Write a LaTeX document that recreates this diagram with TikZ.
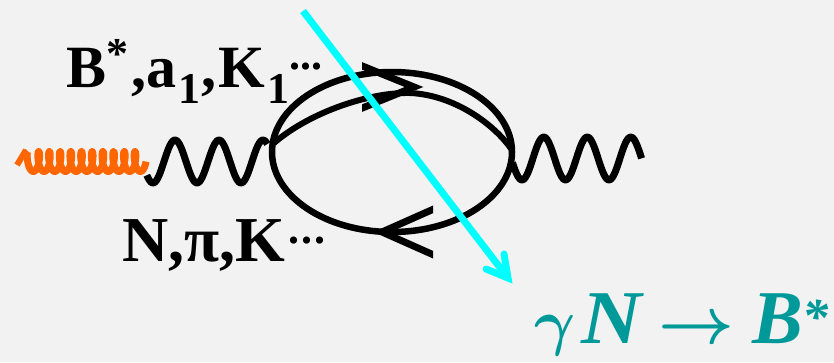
\documentclass[tikz,border=0pt]{standalone}
\usepackage{fontspec}
\usepackage{bm}
\setmainfont{Liberation Serif}
\definecolor{bgc}{HTML}{F2F2F2}
\definecolor{orng}{HTML}{FF6600}
\definecolor{teal2}{HTML}{009999}
\definecolor{cyan2}{HTML}{00FFFF}
\newcommand{\smf}{\fontsize{44}{44}\selectfont}
\newcommand{\updots}[1]{\raisebox{18pt}{\smf.\kern#1.\kern#1.}}
\tikzset{
 line/.style={line width=6.5pt,black,line join=round},
 thinline/.style={line width=6pt,black},
 wave/.style={line width=7pt,black,line join=round},
 barb/.style={line width=7pt,black,line join=miter,miter limit=10},
 lab/.style={inner sep=0pt,outer sep=0pt,anchor=base west,font=\fontsize{60}{60}\selectfont\bfseries},
 teallab/.style={inner sep=0pt,outer sep=0pt,anchor=base west,text=teal2,font=\fontsize{76}{76}\selectfont\bfseries\itshape},
 tealsym/.style={inner sep=0pt,outer sep=0pt,anchor=base west,text=teal2},
}
\begin{document}
\begin{tikzpicture}[x=1pt,y=-1pt]
\path[use as bounding box,fill=bgc] (0,0) rectangle (834,362);
% left wave
\draw[wave] plot[smooth,samples=90,domain=-0.14:2.6,variable=\t] ({153+\t*44},{161.5+21.5*cos(360*\t)});
% right wave
\draw[wave] plot[smooth,samples=90,domain=-0.22:2.75,variable=\t] ({522+\t*43.5},{158.5+21.5*cos(360*\t)});
% orange gluon
\draw[line width=7pt,orng,line join=round] plot[smooth,samples=300,domain=0:10.75,variable=\t] ({28+\t*10.7-3*sin(360*\t)},{161.5-10*cos(360*\t)});
\draw[line width=6pt,orng] (17,165) -- (26,150);
% loop
\coordinate (L) at (274,143);
\coordinate (R) at (512,150);
\draw[line] (392,152) ellipse [x radius=120,y radius=80];
\draw[thinline] (L) .. controls (310,112) and (370,92) .. (410,93) .. controls (455,95) and (495,125) .. (R);
% arrowheads
\coordinate (a1) at (414,87);
\coordinate (a2) at (382,232);
\begin{scope}
\clip (362,40) rectangle (450,130);
\draw[barb] (350,61) -- (a1) -- (350,113);
\end{scope}
\begin{scope}
\clip (360,190) rectangle (433,270);
\draw[barb] (445,204) -- (a2) -- (445,260);
\end{scope}
% cyan arrow
\coordinate (c1) at (303,11);
\coordinate (c2) at (508,278);
\draw[line width=7pt,cyan2] (c1) -- (c2);
\draw[line width=7pt,cyan2,line cap=round,line join=miter,miter limit=10] (504,254) -- (c2) -- (486,269);
% labels
\node[lab] (t1) at (66,87) {B\raisebox{19pt}{\smf *}\kern3pt,a\kern2pt\raisebox{-16pt}{\smf 1}\kern1pt,\kern2ptK\kern3pt\raisebox{-16pt}{\smf 1}\updots{0pt}};
\node[lab,font=\fontsize{64}{64}\selectfont\bfseries] (t2) at (122,261) {N,π,K\kern3pt\updots{2pt}};
\node[tealsym] (t3a) at (534,343) {\scalebox{6.3}{$\bm{\gamma}$}};
\node[teallab] (t3) at (581,343) {\scalebox{1.1}[1]{N}};
\node[tealsym] (t4) at (658,343) {\scalebox{6.6}{$\bm{\rightarrow}$}};
\node[teallab] (t5) at (752,343) {B\raisebox{9pt}{\fontsize{52}{52}\selectfont *}};
\end{tikzpicture}
\end{document}
